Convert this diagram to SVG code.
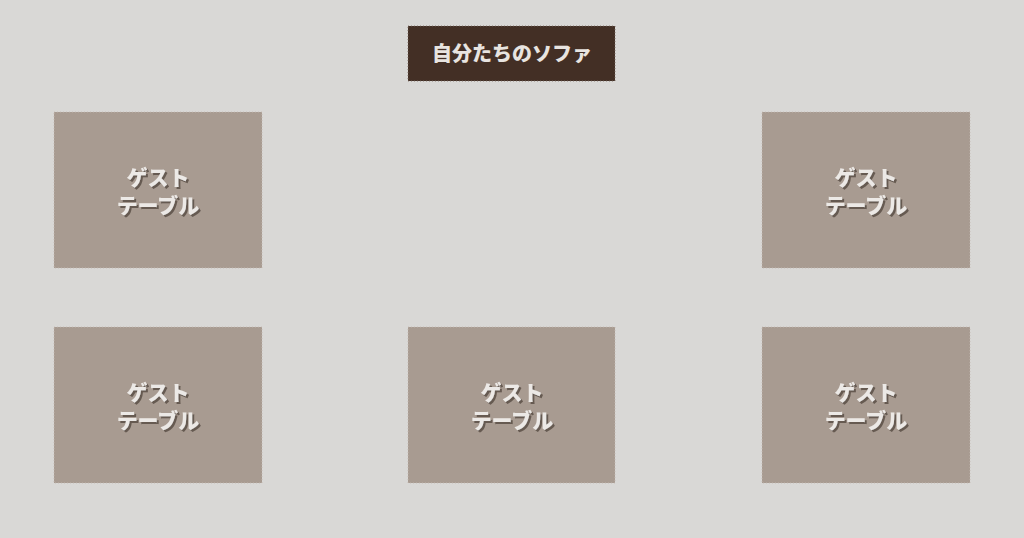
<svg xmlns="http://www.w3.org/2000/svg" width="1024" height="538" viewBox="0 0 1024 538">
<defs>
<filter id="shadow" x="-10%" y="-10%" width="120%" height="130%">
<feDropShadow dx="2" dy="2" stdDeviation="0.6" flood-color="#5e534c" flood-opacity="0.9"/>
</filter>
<style>
.tbl{fill:#a89b91;stroke:#c4bab2;stroke-width:0.8;stroke-dasharray:1 2}
.sofa{fill:#432f25;stroke:#7a6a60;stroke-width:0.8;stroke-dasharray:1 2}
.lbl{font-family:"Noto Sans CJK JP","Noto Sans",sans-serif;font-weight:900;font-size:21px;fill:#ece9e6;text-anchor:middle;filter:url(#shadow)}
.ttl{font-family:"Noto Sans CJK JP","Noto Sans",sans-serif;font-weight:900;font-size:20px;fill:#e8e4e0;text-anchor:middle}
</style>
</defs>
<rect width="1024" height="538" fill="#d9d8d6"/>
<g id="sofa">
<rect class="sofa" x="408" y="26" width="207" height="55"/>
<text class="ttl" x="512" y="61">自分たちのソファ</text>
</g>
<g id="table1">
<rect class="tbl" x="54" y="112" width="208" height="156"/>
<text class="lbl" x="158" y="185">ゲスト<tspan x="158" dy="28">テーブル</tspan></text>
</g>
<g id="table2">
<rect class="tbl" x="762" y="112" width="208" height="156"/>
<text class="lbl" x="866" y="185">ゲスト<tspan x="866" dy="28">テーブル</tspan></text>
</g>
<g id="table3">
<rect class="tbl" x="54" y="327" width="208" height="156"/>
<text class="lbl" x="158" y="400">ゲスト<tspan x="158" dy="28">テーブル</tspan></text>
</g>
<g id="table4">
<rect class="tbl" x="408" y="327" width="207" height="156"/>
<text class="lbl" x="512" y="400">ゲスト<tspan x="512" dy="28">テーブル</tspan></text>
</g>
<g id="table5">
<rect class="tbl" x="762" y="327" width="208" height="156"/>
<text class="lbl" x="866" y="400">ゲスト<tspan x="866" dy="28">テーブル</tspan></text>
</g>
<g id="connectors"></g>
</svg>
